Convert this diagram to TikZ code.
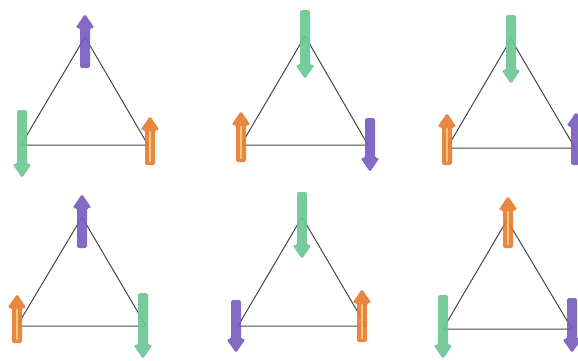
\documentclass[tikz,border=0pt]{standalone}
\definecolor{spinpurple}{RGB}{122,92,192}
\definecolor{spingreen}{RGB}{108,200,148}
\definecolor{spinorange}{RGB}{230,125,50}
\definecolor{spinlight}{RGB}{250,200,120}
\definecolor{triline}{RGB}{70,70,70}
\tikzset{
  tri/.style={draw=triline, line width=0.5pt, line join=round},
}
% #1 colour, #2 x, #3 tail y, #4 tip y  (pixel units, y downwards)
\newcommand\spinarrow[4]{%
  \pgfmathsetmacro\sdir{(#4>#3)?1:-1}%
  \pgfmathsetmacro\sbase{#4-\sdir*14}%
  \fill[#1, opacity=0.92, rounded corners=0.8pt]
    (#2-5,#3) -- (#2-5,\sbase) -- (#2-9.5,\sbase) -- (#2,#4)
    -- (#2+9.5,\sbase) -- (#2+5,\sbase) -- (#2+5,#3) -- cycle;}
\newcommand\orangearrow[3]{%
  \spinarrow{spinorange}{#1}{#2}{#3}%
  \pgfmathsetmacro\sdir{(#3>#2)?1:-1}%
  \draw[spinlight, line width=1.4pt, line cap=round]
    (#1,#2-\sdir*-4) -- (#1,#3-\sdir*16);}
\begin{document}
\begin{tikzpicture}[x=0.5pt,y=-0.5pt]
\useasboundingbox (0,0) rectangle (578,360);
% panel 1
\coordinate (a1) at (85,37); \coordinate (b1) at (21,145); \coordinate (c1) at (148,145);
\draw[tri] (a1) -- (b1) -- (c1) -- cycle;
\spinarrow{spinpurple}{85}{68}{14}
\spinarrow{spingreen}{22}{110}{178}
\orangearrow{150}{165}{116}
% panel 2
\coordinate (a2) at (305,36); \coordinate (b2) at (241,145); \coordinate (c2) at (368,145);
\draw[tri] (a2) -- (b2) -- (c2) -- cycle;
\spinarrow{spingreen}{305}{10}{79}
\orangearrow{241}{162}{111}
\spinarrow{spinpurple}{370}{118}{172}
% panel 3
\coordinate (a3) at (511,39); \coordinate (b3) at (447,148); \coordinate (c3) at (575,148);
\draw[tri] (a3) -- (b3) -- (c3) -- cycle;
\spinarrow{spingreen}{511}{15}{84}
\orangearrow{447}{165}{113}
\spinarrow{spinpurple}{576}{165}{112}
% panel 4
\coordinate (a4) at (82,217); \coordinate (b4) at (17,326); \coordinate (c4) at (146,326);
\draw[tri] (a4) -- (b4) -- (c4) -- cycle;
\spinarrow{spinpurple}{82}{248}{194}
\orangearrow{17}{343}{294}
\spinarrow{spingreen}{143}{293}{359}
% panel 5
\coordinate (a5) at (302,217); \coordinate (b5) at (238,326); \coordinate (c5) at (366,326);
\draw[tri] (a5) -- (b5) -- (c5) -- cycle;
\spinarrow{spingreen}{302}{192}{259}
\spinarrow{spinpurple}{236}{300}{353}
\orangearrow{362}{342}{289}
% panel 6
\coordinate (a6) at (507,220); \coordinate (b6) at (443,329); \coordinate (c6) at (572,329);
\draw[tri] (a6) -- (b6) -- (c6) -- cycle;
\orangearrow{508}{248}{196}
\spinarrow{spingreen}{443}{295}{359}
\spinarrow{spinpurple}{572}{298}{353}
\end{tikzpicture}
\end{document}
